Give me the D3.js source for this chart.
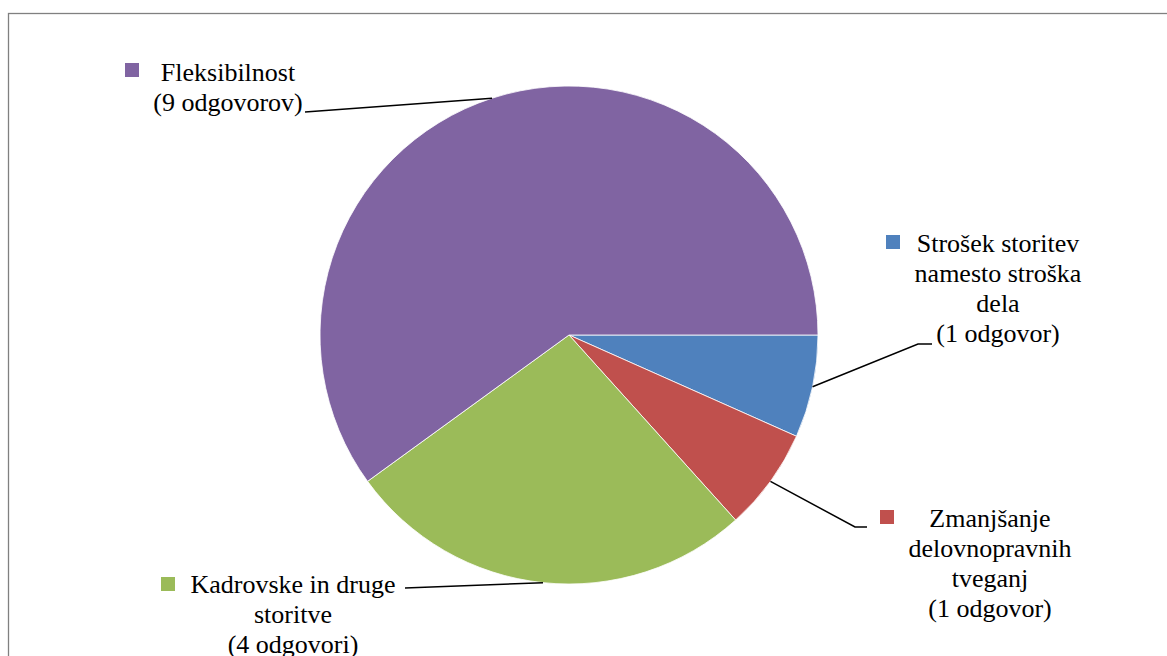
<!DOCTYPE html>
<html>
<head>
<meta charset="utf-8">
<script src="https://cdn.jsdelivr.net/npm/d3@7"></script>
<style>
  html, body { margin: 0; padding: 0; background: #fff; }
  svg { display: block; }
</style>
</head>
<body>
<svg id="chart" width="1167" height="656"></svg>
<script>
// Slices in drawing order, clockwise from 3 o'clock
const categories = [
  "Strošek storitev namesto stroška dela",
  "Zmanjšanje delovnopravnih tveganj",
  "Kadrovske in druge storitve",
  "Fleksibilnost"
];
const values = [1, 1, 4, 9];
const labelLines = [
  ["Strošek storitev", "namesto stroška", "dela", "(1 odgovor)"],
  ["Zmanjšanje", "delovnopravnih", "tveganj", "(1 odgovor)"],
  ["Kadrovske in druge", "storitve", "(4 odgovori)"],
  ["Fleksibilnost", "(9 odgovorov)"]
];
const colors = ["#4F81BD", "#C0504D", "#9BBB59", "#8064A2"];

// Label placement: text block centre x, first baseline y, legend-square position,
// and leader-line end points (elbow, then end).
const labelLayout = [
  { cx: 998, y0: 252, sq: [886, 235], leader: [[918, 344], [932, 344]] },
  { cx: 990, y0: 527, sq: [880, 510], leader: [[855, 527], [867, 527]] },
  { cx: 293, y0: 593, sq: [161, 577], leader: [[405, 588]] },
  { cx: 228, y0: 81,  sq: [125, 63],  leader: [[305, 112]] }
];

const W = 1167, H = 656;
const cx = 569, cy = 335, R = 249;
const fontSize = 26, lineH = 30;
const fontFamily = "'Liberation Serif', 'Times New Roman', Times, serif";

const svg = d3.select("#chart");

// Chart-area frame
svg.append("rect")
  .attr("x", 8.5).attr("y", 13.5)
  .attr("width", W + 20).attr("height", H + 20)
  .attr("fill", "none")
  .attr("stroke", "#808080")
  .attr("stroke-width", 1.3);

const pie = d3.pie()
  .sort(null)
  .value(d => d)
  .startAngle(Math.PI / 2)
  .endAngle(Math.PI / 2 + 2 * Math.PI);

const arcs = pie(values);
const arc = d3.arc().innerRadius(0).outerRadius(R);

const g = svg.append("g").attr("transform", `translate(${cx},${cy})`);

g.selectAll("path.slice")
  .data(arcs)
  .join("path")
  .attr("class", "slice")
  .attr("d", arc)
  .attr("fill", (d, i) => colors[i])
  .attr("stroke", "#ffffff")
  .attr("stroke-width", 0.8);

// Leader lines from each slice's outer-edge midpoint to its label
const edge = d3.arc().innerRadius(R).outerRadius(R);
const line = d3.line();
svg.selectAll("path.leader")
  .data(arcs)
  .join("path")
  .attr("class", "leader")
  .attr("d", (d, i) => {
    const [ex, ey] = edge.centroid(d);
    return line([[cx + ex, cy + ey], ...labelLayout[i].leader]);
  })
  .attr("fill", "none")
  .attr("stroke", "#000")
  .attr("stroke-width", 1.5);

// Labels with legend keys
const lab = svg.selectAll("g.label")
  .data(arcs)
  .join("g")
  .attr("class", "label");

lab.append("rect")
  .attr("x", (d, i) => labelLayout[i].sq[0])
  .attr("y", (d, i) => labelLayout[i].sq[1])
  .attr("width", 14).attr("height", 14)
  .attr("fill", (d, i) => colors[i]);

lab.append("text")
  .attr("text-anchor", "middle")
  .style("font-family", fontFamily)
  .attr("font-size", fontSize)
  .attr("fill", "#000")
  .selectAll("tspan")
  .data((d, i) => labelLines[i].map(t => ({ t, i })))
  .join("tspan")
  .attr("x", d => labelLayout[d.i].cx)
  .attr("y", (d, k) => labelLayout[d.i].y0 + k * lineH)
  .text(d => d.t);
</script>
</body>
</html>
